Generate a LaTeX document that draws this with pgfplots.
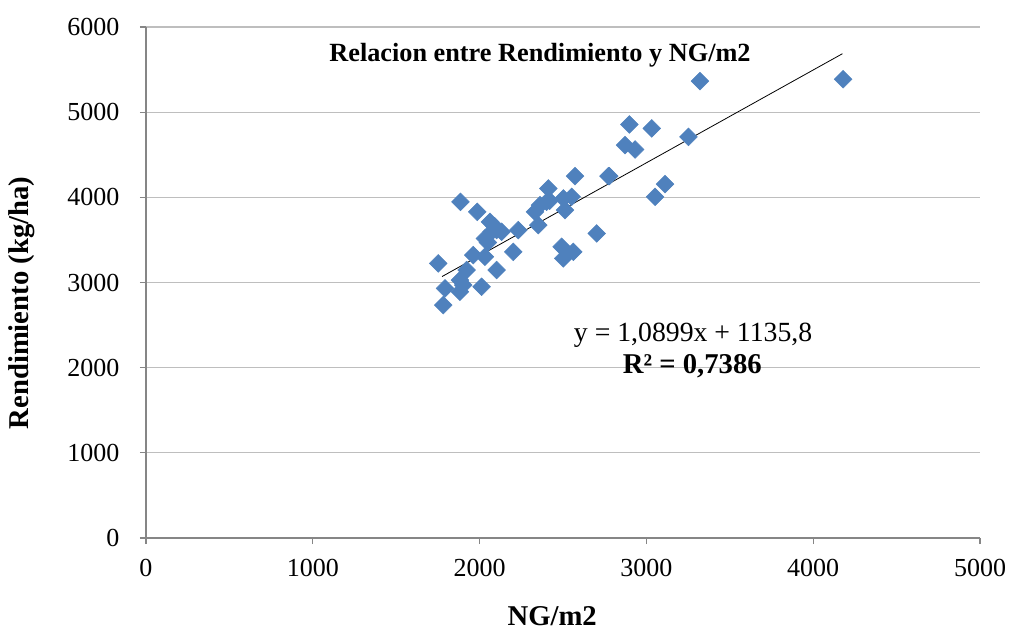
\documentclass[border=0pt]{standalone}
\usepackage{fontspec}
\setmainfont{Liberation Serif}
\usepackage{pgfplots}
\pgfplotsset{compat=1.18}

\definecolor{markblue}{HTML}{4F81BD}
\definecolor{gridgray}{HTML}{BEBEBE}
\definecolor{axisgray}{HTML}{868686}

\begin{document}
\begin{tikzpicture}
\begin{axis}[
  scale only axis,
  width=625.5pt, height=383.25pt,
  xmin=0, xmax=5000, ymin=0, ymax=6000,
  xtick={0,1000,...,5000},
  ytick={0,1000,...,6000},
  axis x line=bottom, axis y line=left,
  axis line style={-, axisgray, line width=0.9pt},
  tick align=outside,
  major tick length=4.5pt,
  tick style={axisgray, line width=0.9pt},
  ymajorgrids,
  grid style={gridgray, line width=0.9pt},
  /pgf/number format/assume math mode=true,
  /pgf/number format/1000 sep={},
  tick label style={font=\fontsize{19.5}{22}\selectfont, black},
  xticklabel style={yshift=-8pt},
  yticklabel style={xshift=-12pt},
  xlabel={\textbf{NG/m2}},
  ylabel={\textbf{Rendimiento (kg/ha)}},
  label style={font=\fontsize{21.5}{24}\selectfont},
  xlabel style={at={(axis description cs:0.487,-0.152)}, anchor=center},
  ylabel style={at={(axis description cs:-0.149,0.46)}, anchor=center, rotate=0},
  clip=false,
]
\addplot[only marks, mark=square*, mark size=4.7pt,
  mark options={rotate=45, fill=markblue, draw=markblue}] coordinates {
  (1885,3947) (1986,3830) (2062,3712) (2102,3615) (2032,3517)
  (2072,3595) (2132,3595) (2232,3615) (2412,4104) (2572,4249)
  (2772,4249) (2332,3830) (2362,3908) (2402,3947) (2352,3674)
  (2502,3987) (2552,4006) (2512,3850) (2702,3576) (2492,3419)
  (2562,3360) (2502,3283) (2202,3360) (1962,3322) (2032,3302)
  (1752,3224) (2102,3146) (1922,3146) (1882,3028) (1902,2970)
  (1793,2931) (2012,2950) (1882,2891) (1782,2735) (2898,4856)
  (3032,4809) (2872,4613) (2932,4562) (3252,4710) (2778,4249)
  (3112,4155) (3052,4006) (3321,5364) (4179,5387) (2050,3470)
  (2090,3660) (2420,3960)
};
\addplot[black, line width=0.6pt] coordinates {(1775,3070) (4175,5686)};
\node[font=\fontsize{19.7}{22}\selectfont\bfseries] at (axis cs:2362,5669)
  {Relacion entre Rendimiento y NG/m2};
\node[font=\fontsize{20.8}{22}\selectfont] at (axis cs:3280,2383)
  {y = 1,0899x + 1135,8};
\node[font=\fontsize{21.5}{22}\selectfont\bfseries] at (axis cs:3275,2019)
  {R² = 0,7386};
\end{axis}
\pgfresetboundingbox
\path (current axis.south west) ++(-109.5pt,-69.75pt) rectangle
  ([shift={(24pt,20.25pt)}]current axis.north east);
\end{tikzpicture}
\end{document}
